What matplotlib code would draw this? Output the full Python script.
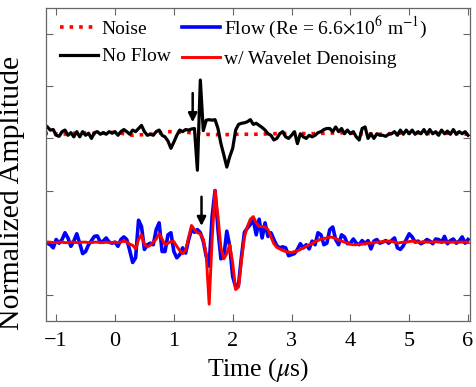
import numpy as np
import matplotlib
matplotlib.use('Agg')
import matplotlib.pyplot as plt

plt.rcParams['font.family'] = ['Liberation Serif', 'DejaVu Serif']
plt.rcParams['mathtext.fontset'] = 'stix'

# sampling time grid (us), step 0.05 from -1.15 to 6.00
time = np.round(np.arange(-1.15, 6.0001, 0.05), 2)

# No Flow trace (normalized, relative to its baseline)
no_flow = [
    0.12, 0.06, 0.07, -0.04, -0.06, 0.03, 0.06, -0.04, 0.01, -0.07,
    0.03, -0.07, 0.03, -0.04, 0.00, -0.10, 0.01, 0.03, -0.02, 0.01,
    -0.02, 0.03, 0.00, 0.03, -0.04, 0.03, 0.07, 0.03, -0.02, 0.06,
    0.03, 0.09, 0.15, 0.03, -0.04, -0.02, -0.04, 0.03, 0.06, -0.04,
    -0.07, -0.15, -0.29, -0.17, -0.04, 0.06, 0.03, 0.07, 0.06, 0.08,
    0.09, -0.71, 1.02, 0.05, 0.25, 0.26, 0.25, 0.26, 0.09, -0.20,
    -0.42, -0.65, -0.45, -0.29, 0.06, 0.17, 0.19, 0.20, 0.22, 0.26,
    0.17, 0.19, 0.15, 0.11, 0.06, -0.01, -0.04, -0.13, -0.10, -0.01,
    0.03, -0.07, -0.10, -0.04, 0.03, -0.20, -0.01, -0.07, -0.10, -0.04,
    -0.07, -0.04, 0.01, 0.03, 0.07, 0.09, 0.09, 0.03, 0.12, 0.03,
    0.09, -0.01, 0.06, -0.01, 0.03, -0.07, -0.13, 0.09, 0.12, -0.10,
    -0.01, -0.10, -0.01, -0.04, -0.04, -0.06, -0.02, -0.01, 0.03, -0.04,
    0.06, -0.02, 0.06, -0.01, 0.06, -0.02, 0.03, -0.01, 0.07, -0.02,
    0.07, -0.01, 0.03, -0.04, 0.06, -0.01, 0.04, -0.02, 0.07, -0.02,
    0.03, -0.01, 0.03, -0.04,
]

# Flow trace (Re = 6.6e6 /m)
flow = [
    -0.01, -0.04, -0.10, 0.06, -0.01, 0.06, 0.19, 0.09, -0.07, 0.03,
    0.17, -0.01, -0.21, -0.17, -0.04, 0.04, 0.12, 0.13, 0.01, 0.03,
    0.09, 0.01, -0.01, 0.01, -0.07, 0.06, 0.11, 0.06, -0.15, -0.38,
    -0.29, 0.43, 0.31, -0.13, -0.04, -0.01, -0.04, 0.25, 0.38, -0.17,
    -0.17, 0.15, 0.19, -0.17, -0.29, -0.23, -0.10, -0.20, 0.05, 0.25,
    0.20, 0.25, 0.19, 0.03, -0.26, -0.45, 0.50, 1.00, 0.25, -0.31,
    -0.26, 0.22, -0.07, -0.65, -0.85, -0.80, -0.26, 0.20, 0.28, 0.35,
    0.44, 0.15, 0.45, 0.09, 0.38, 0.12, 0.19, 0.06, -0.06, -0.10,
    -0.08, -0.10, -0.25, -0.23, -0.21, -0.13, -0.02, -0.10, -0.04, -0.12,
    0.03, -0.04, 0.19, 0.15, -0.04, -0.01, 0.25, 0.30, 0.06, -0.04,
    0.15, 0.11, -0.02, -0.01, 0.07, -0.01, -0.04, 0.04, -0.02, 0.04,
    -0.12, 0.03, 0.06, -0.01, 0.01, 0.04, -0.01, 0.04, 0.09, -0.10,
    -0.13, -0.06, 0.06, 0.17, 0.11, 0.01, 0.03, -0.02, 0.01, 0.06,
    0.03, -0.02, 0.07, 0.06, 0.01, 0.12, -0.02, 0.04, 0.07, -0.01,
    0.03, 0.11, -0.01, 0.06,
]

# Flow trace after wavelet denoising
denoised = [
    0.01, 0.01, 0.00, 0.00, 0.01, 0.01, 0.00, 0.00, 0.01, 0.01,
    0.00, 0.00, 0.01, 0.01, 0.00, 0.00, 0.01, 0.01, 0.00, 0.00,
    0.01, 0.00, 0.00, 0.01, 0.00, 0.01, 0.03, 0.01, -0.03, -0.05,
    -0.12, 0.06, 0.15, -0.04, -0.08, -0.05, 0.01, 0.07, 0.17, 0.07,
    -0.04, -0.01, 0.02, 0.02, -0.07, -0.15, -0.21, -0.15, 0.10, 0.33,
    0.25, 0.19, 0.17, 0.06, -0.23, -1.18, 0.06, 1.00, 0.50, -0.10,
    -0.31, -0.21, -0.04, -0.39, -0.90, -0.85, -0.33, 0.11, 0.31, 0.45,
    0.50, 0.38, 0.31, 0.31, 0.30, 0.25, 0.11, -0.02, -0.09, -0.12,
    -0.15, -0.17, -0.18, -0.19, -0.17, -0.16, -0.13, -0.10, -0.07, -0.04,
    -0.02, 0.02, 0.04, 0.07, 0.08, 0.09, 0.11, 0.10, 0.08, 0.05,
    0.03, 0.01, -0.01, -0.03, -0.04, -0.04, -0.03, -0.03, -0.02, -0.01,
    -0.01, 0.00, 0.01, 0.01, 0.02, 0.03, 0.03, 0.02, 0.01, -0.01,
    0.00, 0.01, 0.01, 0.02, 0.03, 0.02, 0.01, 0.01, 0.02, 0.01,
    0.01, 0.01, 0.02, 0.01, 0.01, 0.01, 0.01, 0.01, 0.01, 0.01,
    0.01, 0.01, 0.01, 0.01,
]

# noise level (coarser sampling)
noise_time = [-1.2, -0.9, -0.6, -0.3, 0.0, 0.3, 0.6, 0.9, 1.2, 1.5, 1.8, 2.1, 2.4,
              2.7, 3.0, 3.3, 3.6, 3.9, 4.2, 4.5, 4.8, 5.1, 5.4, 5.7, 6.0]
noise = [0.00, -0.02, 0.01, -0.01, 0.02, -0.04, -0.02, 0.03, 0.02, -0.02, -0.03, -0.02, -0.02,
         -0.01, 0.00, -0.01, 0.00, 0.01, -0.01, -0.02, 0.00, 0.01, -0.01, 0.00, -0.02]

top_offset = 3.1
bottom_offset = 1.0

# arrows marking the arrival (x, tip, tail)
arrow_x = [1.32, 1.47]
arrow_tip = [3.31, 1.32]
arrow_tail = [3.87, 1.88]

fig = plt.figure(figsize=(4.76, 3.87), dpi=100)
ax = fig.add_axes([0.097, 0.171, 0.890, 0.808])

h_noise, = ax.plot(noise_time, np.array(noise) + top_offset, ':', color='#ff0000', lw=2.6, label='Noise')
h_nf, = ax.plot(time, np.array(no_flow) + top_offset, color='k', lw=2.3, label='No Flow')
h_f, = ax.plot(time, np.array(flow) + bottom_offset, color='#0000ff', lw=2.6,
               label=r'Flow (Re = 6.6$\times$10$^{6}$ m$^{-1}$)')
h_d, = ax.plot(time, np.array(denoised) + bottom_offset, color='#ff0000', lw=2.1,
               label='w/ Wavelet Denoising')

for xa, tip, tail in zip(arrow_x, arrow_tip, arrow_tail):
    ax.annotate('', xy=(xa, tip), xytext=(xa, tail),
                arrowprops=dict(arrowstyle='-|>', color='k', lw=1.8, mutation_scale=13,
                                shrinkA=0, shrinkB=0))

ax.set_xlim(-1.17, 6.03)
ax.set_ylim(-0.5, 5.5)
ax.set_xticks([-1, 0, 1, 2, 3, 4, 5, 6])
ax.set_yticks([0, 1, 2, 3, 4, 5])
ax.set_yticklabels([])
ax.tick_params(direction='in', length=5, width=0.8, color='0.4',
               top=True, right=True, labelsize=16)
ax.tick_params(axis='x', pad=8)
for s in ax.spines.values():
    s.set_color('0.4')
    s.set_linewidth(0.9)

ax.set_xlabel(r'Time ($\mu$s)', fontsize=18.5, labelpad=4)
ax.set_ylabel('Normalized Amplitude', fontsize=21.5)
ax.yaxis.set_label_coords(-0.05, 0.41)

ax.legend(handles=[h_noise, h_nf, h_f, h_d], ncol=2, frameon=False, fontsize=14,
          loc='upper left', bbox_to_anchor=(0.0, 1.022), handlelength=1.95,
          handletextpad=0.2, columnspacing=0.6, labelspacing=0.5, borderaxespad=0.3)

fig.savefig('out.png', dpi=100)
